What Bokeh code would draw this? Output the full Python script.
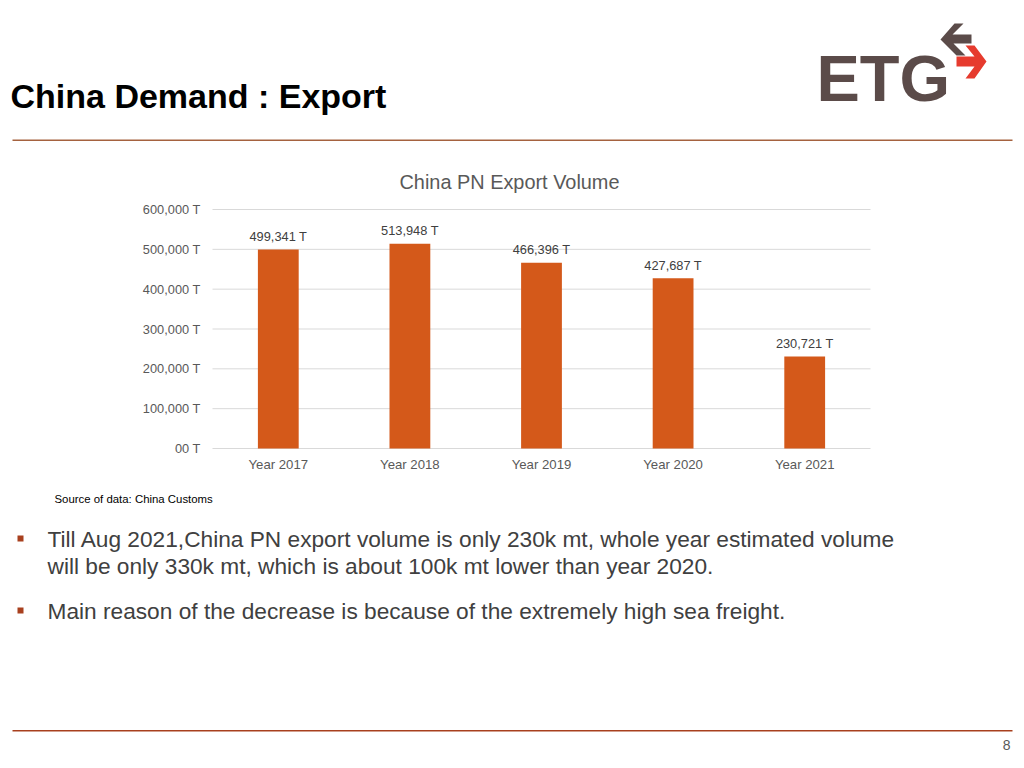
from bokeh.plotting import figure
from bokeh.models import FixedTicker, Range1d, LinearAxis
from bokeh.embed import file_html
from bokeh.resources import INLINE
from bokeh.core.properties import value

# ---------------- data ----------------
categories = ["Year 2017", "Year 2018", "Year 2019", "Year 2020", "Year 2021"]
volumes = [499341, 513948, 466396, 427687, 230721]
value_labels = ["499,341 T", "513,948 T", "466,396 T", "427,687 T", "230,721 T"]
y_ticks = [0, 100000, 200000, 300000, 400000, 500000, 600000]
y_tick_labels = ["00 T", "100,000 T", "200,000 T", "300,000 T", "400,000 T", "500,000 T", "600,000 T"]

slide_title = "China Demand : Export"
chart_title = "China PN Export Volume"
source_note = "Source of data: China Customs"
bullet_lines = [
    "Till Aug 2021,China PN export volume is only 230k mt, whole year estimated volume",
    "will be only 330k mt, which is about 100k mt lower than year 2020.",
    "Main reason of the decrease is because of the extremely high sea freight.",
]
page_number = "8"

# ---------------- page geometry (pixels) ----------------
FONT = "Liberation Sans"
W, H = 1020, 764
FL, FR = 212, 870          # chart plot area, horizontal
Y_ZERO, Y_MAX = 448, 209   # pixel rows of 0 and 600,000
V_MAX = y_ticks[-1]

n = len(categories)
positions = [i + 0.5 for i in range(n)]          # category slots on the chart scale
xs = n / (FR - FL)                                # category units per pixel
vs = V_MAX / (Y_ZERO - Y_MAX)                     # value units per pixel

p = figure(width=W, height=H, x_range=Range1d(0, W), y_range=Range1d(H, 0),
           output_backend="svg", toolbar_location=None,
           x_axis_location=None, y_axis_location=None, min_border=0)
p.grid.visible = False
p.outline_line_color = None
p.background_fill_color = "white"
p.border_fill_color = "white"
p.extra_x_ranges = {"cat": Range1d(-FL * xs, n + (W - FR) * xs)}
p.extra_y_ranges = {"val": Range1d((Y_ZERO - H) * vs, Y_ZERO * vs)}

# gridlines of the chart
p.segment(x0=[0] * len(y_ticks), x1=[n] * len(y_ticks), y0=y_ticks, y1=y_ticks,
          x_range_name="cat", y_range_name="val", line_color="#D9D9D9", line_width=1)

BAR = "#D4591A"
p.vbar(x=positions, top=volumes, width=0.31, fill_color=BAR, line_color=None,
       x_range_name="cat", y_range_name="val")
p.text(x=positions, y=volumes, text=value_labels, y_offset=-13,
       x_range_name="cat", y_range_name="val",
       text_align="center", text_baseline="middle",
       text_font=value(FONT), text_font_size="12.8px", text_color="#404040")

yaxis = LinearAxis(x_range_name="cat", y_range_name="val", fixed_location=0,
                   ticker=FixedTicker(ticks=y_ticks),
                   major_label_overrides=dict(zip(y_ticks, y_tick_labels)))
xaxis = LinearAxis(x_range_name="cat", y_range_name="val", fixed_location=0,
                   ticker=FixedTicker(ticks=positions),
                   major_label_overrides=dict(zip(positions, categories)))
for ax in (xaxis, yaxis):
    ax.axis_line_color = None
    ax.major_tick_line_color = None
    ax.minor_tick_line_color = None
    ax.major_label_text_font = FONT
    ax.major_label_text_color = "#595959"
yaxis.major_label_text_font_size = "12.8px"
yaxis.major_label_standoff = 6
xaxis.major_label_text_font_size = "13.2px"
xaxis.major_label_standoff = 2
p.add_layout(yaxis, "left")
p.add_layout(xaxis, "below")


def txt(x, y, text, size, color="#000000", align="left", style="normal"):
    p.text(x=[x], y=[y], text=[text], text_font=value(FONT), text_font_size=value(size),
           text_color=color, text_align=align, text_baseline="middle", text_font_style=style)


def box(x0, x1, ya, yb, color):
    p.quad(left=[x0], right=[x1], top=[ya], bottom=[yb], fill_color=color, line_color=None)


# header
txt(10, 95, slide_title, "34px", "#000000", style="bold")
box(12, 1012, 139, 140.6, "#A5623F")
txt(509, 181, chart_title, "19.9px", "#595959", align="center")
LOGO = "#5B4B49"
txt(816, 78, "ETG", "65px", LOGO, style="bold")
arrow_left = [(940, 39), (954, 23), (963, 23), (952, 34), (971, 34), (971, 43), (953, 43),
              (965, 55), (956, 55)]
arrow_right = [(956, 56), (974, 56), (965, 45), (974, 45), (986, 61), (974, 78), (965, 78),
               (974, 66), (956, 66)]
p.patch([a for a, b in arrow_left], [b for a, b in arrow_left], fill_color=LOGO, line_color=None)
p.patch([a for a, b in arrow_right], [b for a, b in arrow_right], fill_color="#E63B2E", line_color=None)

# footer
txt(54, 498, source_note, "11.4px", "#000000")
BUL = "#A8401E"
box(17, 23, 535, 541, BUL)
box(17, 23, 607, 613, BUL)
txt(47, 538, bullet_lines[0], "22.7px", "#404040")
txt(47, 565, bullet_lines[1], "22.7px", "#404040")
txt(47, 610, bullet_lines[2], "22.7px", "#404040")
box(12, 1012, 729.5, 731, "#A8401E")
txt(1010, 744, page_number, "14px", "#595959", align="right")

open("out.html", "w").write(file_html(p, INLINE))
